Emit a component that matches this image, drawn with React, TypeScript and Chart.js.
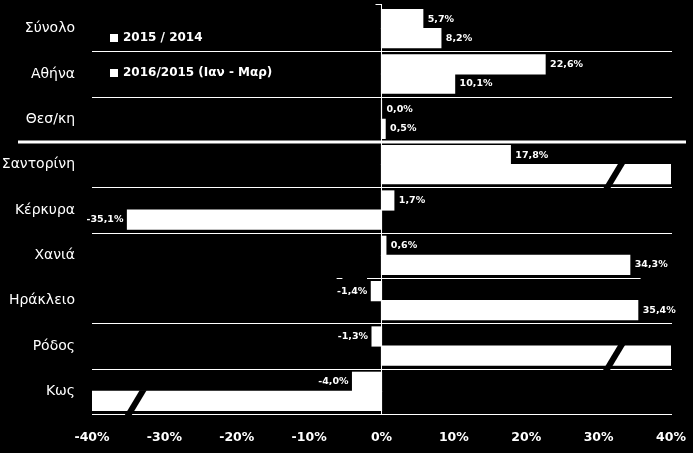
import React, { useEffect, useRef } from 'react';
import { Chart, registerables } from 'chart.js';

Chart.register(...registerables);

const categories = ['Σύνολο', 'Αθήνα', 'Θεσ/κη', 'Σαντορίνη', 'Κέρκυρα', 'Χανιά', 'Ηράκλειο', 'Ρόδος', 'Κως'];
const seriesLabels = ['2015 / 2014', '2016/2015 (Ιαν - Μαρ)'];
const values2015 = [5.7, 22.6, 0.0, 17.8, 1.7, 0.6, -1.4, -1.3, -4.0];
const values2016 = [8.2, 10.1, 0.5, 52.0, -35.1, 34.3, 35.4, 48.0, -46.0];
const xTickValues = [-40, -30, -20, -10, 0, 10, 20, 30, 40];
const AXIS_MIN = -40;
const AXIS_MAX = 40;
// axis-break marks drawn on bars that run off the axis (value where the slash sits)
const breakAt: Record<string, number> = { '1-3': 32.3, '1-7': 32.3, '1-8': -33.8 };

const FONT = 'DejaVu Sans';
const fmt = (v: number) => v.toFixed(1).replace('.', ',') + '%';

const decor = {
  id: 'decor',
  beforeDatasetsDraw(chart: any) {
    const { ctx, chartArea, scales } = chart;
    const y = scales.y;
    const x = scales.x;
    ctx.save();
    ctx.strokeStyle = '#fff';
    const n = categories.length;
    for (let i = 0; i < n; i++) {
      const by = i < n - 1 ? (y.getPixelForValue(i) + y.getPixelForValue(i + 1)) / 2 : chartArea.bottom;
      ctx.beginPath();
      if (i === 2) {
        ctx.lineWidth = 3;
        ctx.moveTo(18, Math.round(by));
        ctx.lineTo(686, Math.round(by));
      } else if (i === 5) {
        ctx.lineWidth = 1;
        ctx.moveTo(x.getPixelForValue(-6.2), Math.round(by) + 0.5);
        ctx.lineTo(x.getPixelForValue(-5.4), Math.round(by) + 0.5);
        ctx.moveTo(x.getPixelForValue(-2), Math.round(by) + 0.5);
        ctx.lineTo(x.getPixelForValue(35.8), Math.round(by) + 0.5);
      } else {
        ctx.lineWidth = 1;
        ctx.moveTo(chartArea.left, Math.round(by) + 0.5);
        ctx.lineTo(chartArea.right + 1, Math.round(by) + 0.5);
      }
      ctx.stroke();
    }
    // zero line
    const zx = Math.round(x.getPixelForValue(0)) - 0.5;
    ctx.lineWidth = 1;
    ctx.beginPath();
    ctx.moveTo(zx, chartArea.top - 2);
    ctx.lineTo(zx, chartArea.bottom);
    ctx.moveTo(zx - 6, chartArea.top - 1.5);
    ctx.lineTo(zx, chartArea.top - 1.5);
    ctx.stroke();
    ctx.restore();
  },
  afterDatasetsDraw(chart: any) {
    const { ctx, chartArea, scales } = chart;
    const x = scales.x;
    ctx.save();
    // value labels
    ctx.fillStyle = '#fff';
    ctx.font = `bold 9.5px "${FONT}"`;
    ctx.textBaseline = 'middle';
    chart.data.datasets.forEach((ds: any, di: number) => {
      const meta = chart.getDatasetMeta(di);
      ds.data.forEach((v: number, i: number) => {
        const bar = meta.data[i];
        const key = `${di}-${i}`;
        if (v > AXIS_MAX || v < AXIS_MIN) {
          const c = breakAt[key];
          if (c !== undefined) {
            const cx = x.getPixelForValue(c);
            const top = bar.y - bar.height / 2 - 1;
            const bot = bar.y + bar.height / 2 + 7;
            const slope = 0.6;
            const w = 7;
            const xt = cx + (bar.y - top) * slope;
            const xb = cx + (bar.y - bot) * slope;
            ctx.fillStyle = '#000';
            ctx.beginPath();
            ctx.moveTo(xt - w / 2, top);
            ctx.lineTo(xt + w / 2, top);
            ctx.lineTo(xb + w / 2, bot);
            ctx.lineTo(xb - w / 2, bot);
            ctx.closePath();
            ctx.fill();
            ctx.fillStyle = '#fff';
          }
          return;
        }
        if (v >= 0) {
          ctx.textAlign = 'left';
          ctx.fillText(fmt(v), bar.x + 5, bar.y);
        } else {
          ctx.textAlign = 'right';
          ctx.fillText(fmt(v), bar.x - 4, bar.y);
        }
      });
    });
    // legend
    ctx.fillStyle = '#fff';
    ctx.font = `bold 12px "${FONT}"`;
    ctx.textAlign = 'left';
    ctx.textBaseline = 'middle';
    const lx = chartArea.left + 18;
    const rows = [chartArea.top + 32, chartArea.top + 67];
    seriesLabels.forEach((lab, k) => {
      ctx.fillRect(lx, rows[k] - 4, 8, 8);
      ctx.fillText(lab, lx + 13, rows[k]);
    });
    ctx.restore();
  },
};

export default function App() {
  const ref = useRef<HTMLCanvasElement | null>(null);
  useEffect(() => {
    document.body.style.margin = '0';
    document.body.style.background = '#000';
    const canvas = ref.current!;
    const chart = new Chart(canvas, {
      type: 'bar',
      data: {
        labels: categories,
        datasets: [
          { label: seriesLabels[0], data: values2015, backgroundColor: '#fff', borderWidth: 0, inflateAmount: 0.6, categoryPercentage: 0.84, barPercentage: 1.0 },
          { label: seriesLabels[1], data: values2016, backgroundColor: '#fff', borderWidth: 0, inflateAmount: 0.6, categoryPercentage: 0.84, barPercentage: 1.0 },
        ],
      },
      options: {
        indexAxis: 'y',
        responsive: false,
        animation: false,
        devicePixelRatio: 1,
        layout: { padding: { top: 6, right: 22, left: 0, bottom: 0 } },
        plugins: { legend: { display: false }, tooltip: { enabled: false } },
        scales: {
          x: {
            type: 'linear',
            min: AXIS_MIN,
            max: AXIS_MAX,
            afterFit: (s: any) => { s.height = 39; s.paddingLeft = 0; s.paddingRight = 0; },
            afterBuildTicks: (s: any) => { s.ticks = xTickValues.map((v) => ({ value: v })); },
            ticks: {
              callback: (v: any) => `${v}%`,
              color: '#fff',
              font: { family: FONT, weight: 'bold', size: 12.5 },
              padding: 16,
              maxRotation: 0,
              autoSkip: false,
            },
            grid: { display: false, drawTicks: false },
            border: { display: false },
          },
          y: {
            afterFit: (s: any) => { s.width = 92; s.paddingTop = 0; s.paddingBottom = 0; },
            ticks: { color: '#fff', font: { family: FONT, size: 14 }, padding: 17 },
            grid: { display: false, drawTicks: false },
            border: { display: false },
          },
        },
      },
      plugins: [decor],
    } as any);
    return () => chart.destroy();
  }, []);
  return (
    <div style={{ width: 693, height: 453, background: '#000' }}>
      <canvas ref={ref} width={693} height={453} style={{ display: 'block' }} />
    </div>
  );
}
